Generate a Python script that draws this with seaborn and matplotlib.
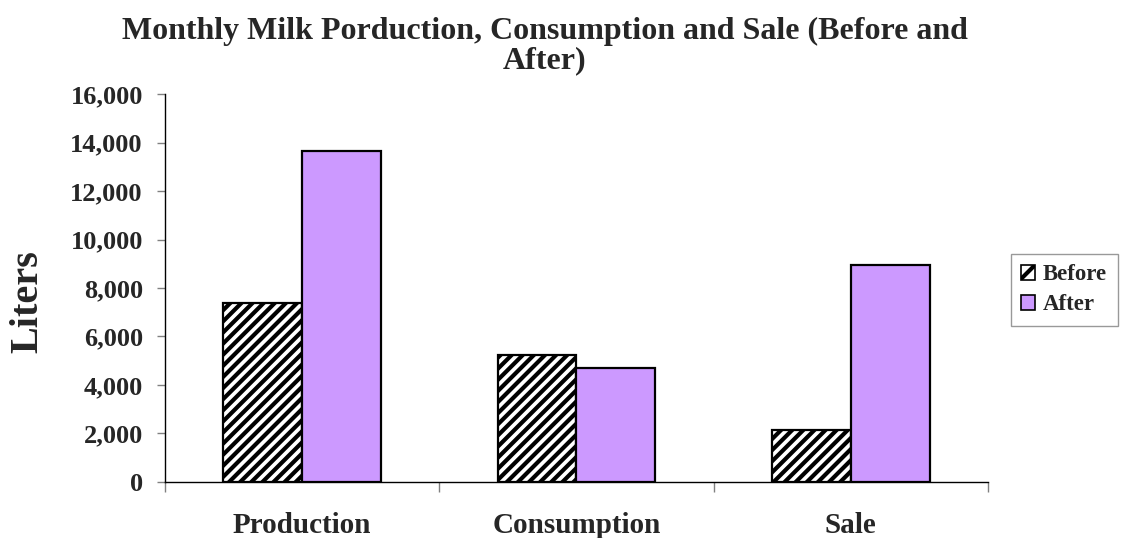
import matplotlib
matplotlib.use("Agg")
import matplotlib.pyplot as plt
from matplotlib.patches import Patch
from matplotlib.ticker import FuncFormatter
import seaborn as sns
import pandas as pd

# Monthly milk volumes (liters)
categories = ["Production", "Consumption", "Sale"]
series = ["Before", "After"]
before = [7400, 5230, 2150]
after = [13660, 4680, 8970]
yticks = [0, 2000, 4000, 6000, 8000, 10000, 12000, 14000, 16000]

title = "Monthly Milk Porduction, Consumption and Sale (Before and\nAfter)"
ylabel = "Liters"

sns.set_theme(style="white")
plt.rcParams["font.family"] = ["Liberation Serif", "DejaVu Serif"]
plt.rcParams["font.weight"] = "bold"
plt.rcParams["hatch.linewidth"] = 3.0
plt.rcParams["hatch.color"] = "black"

df = pd.DataFrame({
    "Category": categories * 2,
    "Period": [series[0]] * len(before) + [series[1]] * len(after),
    "Liters": before + after,
})

purple = "#CC99FF"

fig = plt.figure(figsize=(11.24, 5.38), dpi=100)
ax = fig.add_axes([165 / 1124, 1 - 481.7 / 538, 823 / 1124, 387.4 / 538])

sns.barplot(
    data=df, x="Category", y="Liters", hue="Period",
    order=categories, hue_order=series,
    palette={"Before": "white", "After": purple},
    width=0.574, edgecolor="black", linewidth=1.6, saturation=1,
    legend=False, ax=ax,
)

# hatch the "Before" bars
for bar in ax.containers[0]:
    bar.set_hatch("///")
    bar.set_facecolor("white")

ax.set_xlim(-0.5, 2.5)
ax.set_ylim(0, 16000)
ax.set_yticks(yticks)
ax.yaxis.set_major_formatter(FuncFormatter(lambda v, p: f"{int(v):,}"))
ax.set_xlabel("")
ax.set_ylabel("")

for side in ["top", "right"]:
    ax.spines[side].set_visible(False)
for side in ["left", "bottom"]:
    ax.spines[side].set_color("black")
    ax.spines[side].set_linewidth(1.0)

ax.tick_params(axis="y", direction="out", length=6, width=1, color="gray",
               labelsize=19, pad=10, left=True)
ax.tick_params(axis="x", which="major", length=0, labelsize=21, pad=22)
ax.set_xticks([-0.5, 0.5, 1.5, 2.5], minor=True)
ax.tick_params(axis="x", which="minor", direction="out", length=7, width=1,
               color="gray", bottom=True)

fig.text(545 / 1124, 1 - 17 / 538, title, ha="center", va="top",
         fontsize=23, fontweight="bold", linespacing=1.0)
fig.text(28 / 1124, 1 - 302 / 538, ylabel, rotation=90, ha="center",
         va="center", fontsize=29, fontweight="bold")

handles = [
    Patch(facecolor="white", edgecolor="black", hatch="/", linewidth=1.2),
    Patch(facecolor=purple, edgecolor="black", linewidth=1.2),
]
leg = fig.legend(
    handles=handles, labels=series, loc="upper left",
    bbox_to_anchor=(1011 / 1124, 1 - 254 / 538), borderaxespad=0,
    fontsize=16.5, frameon=True, fancybox=False, edgecolor="gray",
    handlelength=0.6, handleheight=0.6, handletextpad=0.35,
    borderpad=0.45, labelspacing=0.4,
)
leg.get_frame().set_linewidth(1.0)
for t in leg.get_texts():
    t.set_fontweight("bold")

fig.savefig("out.png", dpi=100)
